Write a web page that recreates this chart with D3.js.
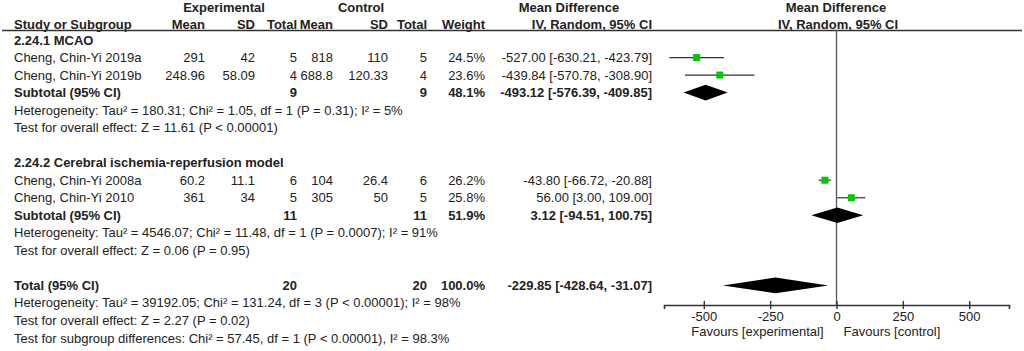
<!DOCTYPE html>
<html>
<head>
<meta charset="utf-8">
<script src="https://cdn.jsdelivr.net/npm/d3@7"></script>
<style>
  body { margin: 0; background: #fff; }
  svg text { font-family: "Liberation Sans", Arial, sans-serif; fill: #222; }
</style>
</head>
<body>
<svg id="chart"></svg>
<script>
// study level data
const studyNames = ["Cheng, Chin-Yi 2019a", "Cheng, Chin-Yi 2019b", "Cheng, Chin-Yi 2008a", "Cheng, Chin-Yi 2010"];
const studyGroup = [0, 0, 1, 1];
const expMean = [291, 248.96, 60.2, 361];
const expSD = [42, 58.09, 11.1, 34];
const expN = [5, 4, 6, 5];
const ctlMean = [818, 688.8, 104, 305];
const ctlSD = [110, 120.33, 26.4, 50];
const ctlN = [5, 4, 6, 5];
const weights = [24.5, 23.6, 26.2, 25.8];
const md = [-527.00, -439.84, -43.80, 56.00];
const mdLo = [-630.21, -570.78, -66.72, 3.00];
const mdHi = [-423.79, -308.90, -20.88, 109.00];

// subgroup data
const groupNames = ["2.24.1 MCAO", "2.24.2 Cerebral ischemia-reperfusion model"];
const groupExpN = [9, 11];
const groupCtlN = [9, 11];
const groupWeight = [48.1, 51.9];
const groupMd = [-493.12, 3.12];
const groupLo = [-576.39, -94.51];
const groupHi = [-409.85, 100.75];
const groupHet = [
  "Heterogeneity: Tau\u00b2 = 180.31; Chi\u00b2 = 1.05, df = 1 (P = 0.31); I\u00b2 = 5%",
  "Heterogeneity: Tau\u00b2 = 4546.07; Chi\u00b2 = 11.48, df = 1 (P = 0.0007); I\u00b2 = 91%"
];
const groupTest = [
  "Test for overall effect: Z = 11.61 (P < 0.00001)",
  "Test for overall effect: Z = 0.06 (P = 0.95)"
];

// overall
const totalExpN = 20, totalCtlN = 20, totalWeight = 100.0;
const totalMd = -229.85, totalLo = -428.64, totalHi = -31.07;
const totalNotes = [
  "Heterogeneity: Tau\u00b2 = 39192.05; Chi\u00b2 = 131.24, df = 3 (P < 0.00001); I\u00b2 = 98%",
  "Test for overall effect: Z = 2.27 (P = 0.02)",
  "Test for subgroup differences: Chi\u00b2 = 57.45, df = 1 (P < 0.00001), I\u00b2 = 98.3%"
];
const axisTicks = [-500, -250, 0, 250, 500];

const W = 1024, H = 351;
const fs = 13;

const svg = d3.select("#chart").attr("width", W).attr("height", H);

// build the row list
const rows = [];
groupNames.forEach((g, gi) => {
  rows.push({ type: "group", label: g });
  studyNames.forEach((s, i) => {
    if (studyGroup[i] !== gi) return;
    rows.push({ type: "study", label: s, cells: [expMean[i], expSD[i], expN[i], ctlMean[i], ctlSD[i], ctlN[i]],
      w: weights[i], md: md[i], lo: mdLo[i], hi: mdHi[i] });
  });
  rows.push({ type: "sub", label: "Subtotal (95% CI)", cells: ["", "", groupExpN[gi], "", "", groupCtlN[gi]],
    w: groupWeight[gi], md: groupMd[gi], lo: groupLo[gi], hi: groupHi[gi] });
  rows.push({ type: "note", label: groupHet[gi] });
  rows.push({ type: "note", label: groupTest[gi] });
  rows.push({ type: "blank" });
});
rows.push({ type: "sub", label: "Total (95% CI)", cells: ["", "", totalExpN, "", "", totalCtlN],
  w: totalWeight, md: totalMd, lo: totalLo, hi: totalHi });
totalNotes.forEach(t => rows.push({ type: "note", label: t }));

const y = d3.scaleLinear().domain([0, rows.length - 1]).range([40, 338]);
const x = d3.scaleLinear().domain([-650, 650]).range([664, 1009]);

const colRight = [205, 255, 297, 333, 388, 427];
const weightRight = 485, ciRight = 652, labelX = 14;

// headers
const head = svg.append("g").style("font-weight", "bold").style("font-size", fs + "px");
head.append("text").attr("x", 224).attr("y", 7).attr("dy", "0.35em").attr("text-anchor", "middle").text("Experimental");
head.append("text").attr("x", 361).attr("y", 7).attr("dy", "0.35em").attr("text-anchor", "middle").text("Control");
head.append("text").attr("x", 569).attr("y", 7).attr("dy", "0.35em").attr("text-anchor", "middle").text("Mean Difference");
head.append("text").attr("x", 836).attr("y", 7).attr("dy", "0.35em").attr("text-anchor", "middle").text("Mean Difference");
head.append("text").attr("x", labelX).attr("y", 24).attr("dy", "0.35em").text("Study or Subgroup");
["Mean", "SD", "Total", "Mean", "SD", "Total"].forEach((h, i) => {
  head.append("text").attr("x", colRight[i]).attr("y", 24).attr("dy", "0.35em").attr("text-anchor", "end").text(h);
});
head.append("text").attr("x", weightRight).attr("y", 24).attr("dy", "0.35em").attr("text-anchor", "end").text("Weight");
head.append("text").attr("x", ciRight).attr("y", 24).attr("dy", "0.35em").attr("text-anchor", "end").text("IV, Random, 95% CI");
head.append("text").attr("x", 838).attr("y", 24).attr("dy", "0.35em").attr("text-anchor", "middle").text("IV, Random, 95% CI");

svg.append("line").attr("x1", 2).attr("x2", 1022).attr("y1", 30.5).attr("y2", 30.5)
  .attr("stroke", "#333").attr("stroke-width", 1.3);

// table rows
const body = svg.append("g").style("font-size", fs + "px");
rows.forEach((r, i) => {
  if (r.type === "blank") return;
  const yy = y(i);
  const bold = r.type === "group" || r.type === "sub";
  const g = body.append("g").style("font-weight", bold ? "bold" : "normal");
  g.append("text").attr("x", labelX).attr("y", yy).attr("dy", "0.35em").text(r.label);
  if (r.cells) {
    r.cells.forEach((c, ci) => {
      g.append("text").attr("x", colRight[ci]).attr("y", yy).attr("dy", "0.35em").attr("text-anchor", "end").text(c);
    });
    g.append("text").attr("x", weightRight).attr("y", yy).attr("dy", "0.35em").attr("text-anchor", "end")
      .text(r.w.toFixed(1) + "%");
    g.append("text").attr("x", ciRight).attr("y", yy).attr("dy", "0.35em").attr("text-anchor", "end")
      .text(`${r.md.toFixed(2)} [${r.lo.toFixed(2)}, ${r.hi.toFixed(2)}]`);
  }
});

// zero line
svg.append("line").attr("x1", x(0)).attr("x2", x(0)).attr("y1", 30).attr("y2", 305)
  .attr("stroke", "#555").attr("stroke-width", 1.3);

// study marks
const plot = svg.append("g");
rows.forEach((r, i) => {
  const yy = y(i);
  if (r.type === "study") {
    plot.append("line").attr("x1", x(r.lo)).attr("x2", x(r.hi)).attr("y1", yy).attr("y2", yy)
      .attr("stroke", "#333").attr("stroke-width", 1.2);
    plot.append("rect").attr("x", x(r.md) - 3.5).attr("y", yy - 3.5).attr("width", 7).attr("height", 7)
      .attr("fill", "#00c800");
  } else if (r.type === "sub") {
    const h = 7.8;
    plot.append("path")
      .attr("d", `M${x(r.lo)},${yy} L${x(r.md)},${yy - h} L${x(r.hi)},${yy} L${x(r.md)},${yy + h} Z`)
      .attr("fill", "#000");
  }
});

// axis
const axis = svg.append("g").attr("transform", "translate(0,305)")
  .call(d3.axisBottom(x).tickValues(axisTicks).tickFormat(d => String(d)).tickSizeOuter(0).tickSize(4));
axis.select(".domain").attr("stroke", "#333").attr("stroke-width", 1.6);
axis.selectAll(".tick line").attr("y1", -4).attr("y2", 4).attr("stroke", "#333").attr("stroke-width", 1.4);
axis.selectAll(".tick text").style("font-family", "Liberation Sans, Arial, sans-serif")
  .style("font-size", fs + "px").attr("fill", "#222").attr("y", 11.5).attr("dy", "0.35em");

svg.append("text").attr("x", x(0) - 13).attr("y", 331).attr("dy", "0.35em").attr("text-anchor", "end")
  .style("font-size", fs + "px").text("Favours [experimental]");
svg.append("text").attr("x", x(0) + 7).attr("y", 331).attr("dy", "0.35em")
  .style("font-size", fs + "px").text("Favours [control]");
</script>
</body>
</html>
